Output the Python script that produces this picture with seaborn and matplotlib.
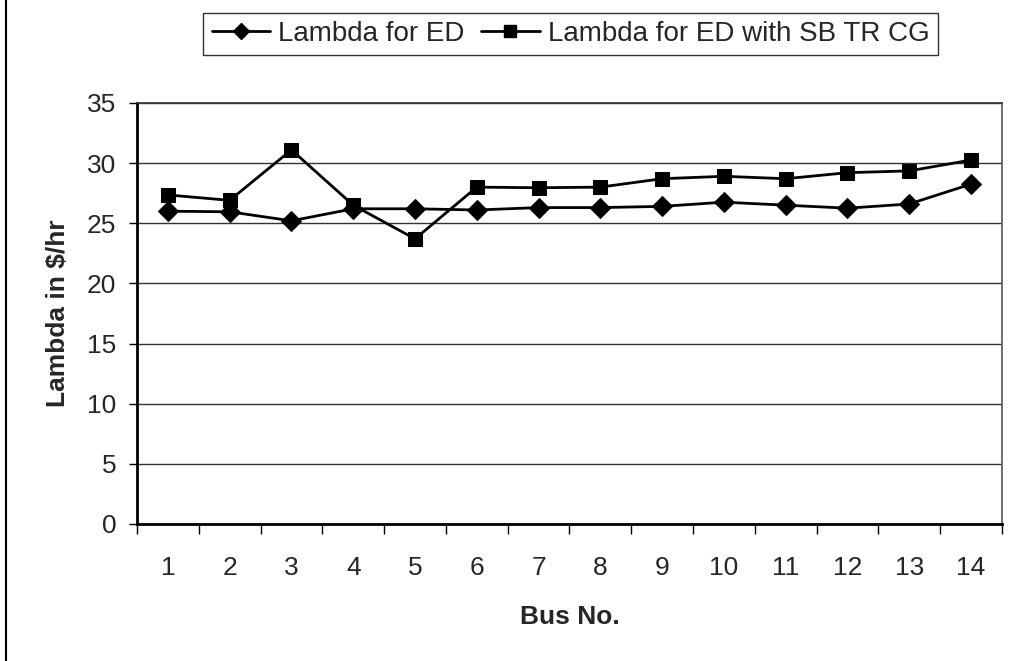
import matplotlib
matplotlib.use("Agg")
import matplotlib.pyplot as plt
import seaborn as sns
import pandas as pd
from matplotlib.lines import Line2D

# Bus numbers and incremental cost (lambda) per bus
buses = list(range(1, 15))
lambda_ed = [26.0, 25.95, 25.2, 26.2, 26.2, 26.1, 26.3, 26.3, 26.4, 26.75, 26.5, 26.25, 26.6, 28.25]
lambda_ed_sb = [27.35, 26.9, 31.1, 26.5, 23.7, 28.0, 27.95, 28.0, 28.7, 28.9, 28.7, 29.2, 29.35, 30.25]
series_names = ["Lambda for ED", "Lambda for ED with SB TR CG"]
y_ticks = [0, 5, 10, 15, 20, 25, 30, 35]

df = pd.DataFrame({
    "Bus": buses * 2,
    "Lambda": lambda_ed + lambda_ed_sb,
    "Series": [series_names[0]] * len(buses) + [series_names[1]] * len(buses),
})

sns.set_theme(style="white")
plt.rcParams["font.family"] = ["Liberation Sans", "DejaVu Sans"]

fig = plt.figure(figsize=(10.11, 6.61), dpi=100)
ax = fig.add_axes([0.1355, 0.2073, 0.8555, 0.637])

sns.lineplot(
    data=df, x="Bus", y="Lambda", style="Series", hue="Series",
    palette={series_names[0]: "black", series_names[1]: "black"},
    markers={series_names[0]: "D", series_names[1]: "s"},
    dashes=False, markersize=10, linewidth=2.0, markeredgecolor="black",
    ax=ax, legend=False,
)

ax.set_xlim(0.5, 14.5)
ax.set_ylim(0, 35)
ax.set_yticks(y_ticks)
ax.set_yticklabels([str(v) for v in y_ticks], fontsize=19)
ax.set_xticks(buses)
ax.set_xticklabels([str(b) for b in buses], fontsize=19)
ax.tick_params(axis="x", which="major", length=0, pad=23)
ax.tick_params(axis="y", which="major", length=6, width=1, color="black", direction="out", pad=9, left=True)
# category boundary ticks on the x axis
ax.set_xticks([b + 0.5 for b in [0] + buses], minor=True)
ax.tick_params(axis="x", which="minor", length=7, width=1, color="black", direction="out", bottom=True)

ax.grid(axis="y", color="#333333", linewidth=1.0)
ax.grid(axis="x", visible=False)
ax.set_axisbelow(True)

for side in ["left", "bottom"]:
    ax.spines[side].set_color("black")
    ax.spines[side].set_linewidth(2.0)
ax.spines["top"].set_color("#333333")
ax.spines["top"].set_linewidth(1.2)
ax.spines["right"].set_color("#555555")
ax.spines["right"].set_linewidth(1.2)

ax.set_xlabel("Bus No.", fontsize=19, fontweight="bold", labelpad=18)
ax.set_ylabel("Lambda in $/hr", fontsize=19, fontweight="bold", labelpad=12)

handles = [
    Line2D([], [], color="black", marker="D", markersize=8, linewidth=2.0),
    Line2D([], [], color="black", marker="s", markersize=9, linewidth=2.0),
]
leg = fig.legend(
    handles, series_names, loc="upper left", bbox_to_anchor=(0.201, 0.981),
    ncol=2, fontsize=20, frameon=True, fancybox=False, edgecolor="black",
    handlelength=2.1, handletextpad=0.3, columnspacing=0.6, borderpad=0.3,
    borderaxespad=0,
)
leg.get_frame().set_linewidth(1.0)

# outer chart frame on the left edge
fig.add_artist(Line2D([0.006, 0.006], [0.0, 1.0], color="black", linewidth=1.5, transform=fig.transFigure))

fig.savefig("out.png", dpi=100, facecolor="white")
